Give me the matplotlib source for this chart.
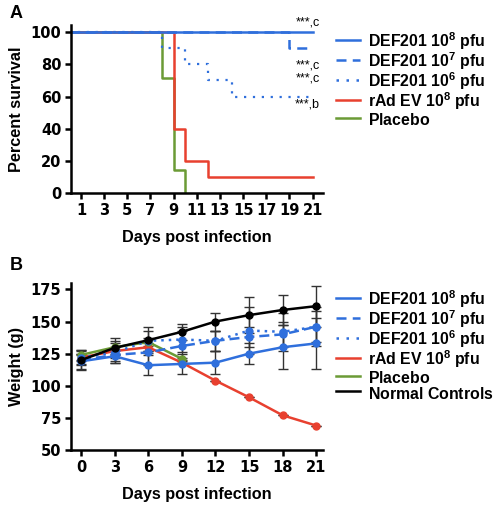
import matplotlib
matplotlib.use('Agg')
import matplotlib.pyplot as plt
import numpy as np

plt.rcParams['font.family'] = ['Liberation Sans', 'DejaVu Sans']
plt.rcParams['font.weight'] = 'bold'
plt.rcParams['mathtext.fontset'] = 'custom'
plt.rcParams['mathtext.rm'] = 'Liberation Sans:bold'
plt.rcParams['mathtext.default'] = 'rm'

BLUE = '#2f6fdc'
RED = '#e8402f'
GREEN = '#6b9b35'
BLACK = '#000000'

# empty superscript keeps every legend row the same height
labels = ['DEF201 10$^{8}$ pfu', 'DEF201 10$^{7}$ pfu', 'DEF201 10$^{6}$ pfu',
          'rAd EV 10$^{8}$ pfu', 'Placebo$^{\\ }$', 'Normal Controls$^{\\ }$']

# ---- panel A: survival (step data) ----
surv_days = {
    'def8': [0, 21],
    'def7': [0, 19, 21],
    'def6': [0, 8, 10, 12, 14, 21],
    'rad': [0, 9, 10, 12, 21],
    'placebo': [0, 8, 9, 10],
}
surv_pct = {
    'def8': [100, 100],
    'def7': [100, 90, 90],
    'def6': [100, 90, 80, 70, 60, 60],
    'rad': [100, 40, 20, 10, 10],
    'placebo': [100, 71.4, 14.3, 0],
}
sig_labels = ['***,c', '***,c', '***,c', '***,b']
sig_y = [106, 79, 71, 55]

# ---- panel B: weight ----
w_days = [0, 3, 6, 9, 12, 15, 18, 21]
w_def8 = [119, 123, 116, 117, 118, 125, 130, 133]
w_def8_err = [6, 5, 8, 8, 9, 8, 17, 20]
w_def7 = [120, 124, 126, 131, 135, 138, 140, 146]
w_def7_err = [4, 6, 10, 12, 8, 8, 10, 15]
w_def6 = [122, 126, 135, 136, 135, 143, 142, 146]
w_def6_err = [5, 7, 8, 10, 8, 18, 15, 12]
w_rad = [122, 127, 130, 118, 104, 91, 77, 69]
w_rad_err = [3, 3, 3, 0, 0, 0, 0, 0]
w_plac_days = [0, 3, 6, 9]
w_plac = [124, 130, 134, 121]
w_plac_err = [4, 5, 3, 1]
w_ctrl = [120, 129.5, 135.5, 142, 150, 155, 159, 162]
w_ctrl_err = [8, 8, 10, 6, 7, 14, 12, 16]

styles = {
    'def8': dict(color=BLUE, linestyle='-'),
    'def7': dict(color=BLUE, linestyle=(0, (4, 2.5))),
    'def6': dict(color=BLUE, linestyle=(0, (1, 3))),
    'rad': dict(color=RED, linestyle='-'),
    'placebo': dict(color=GREEN, linestyle='-'),
}

fig = plt.figure(figsize=(4.98, 5.07), dpi=100)
axA = fig.add_axes([71/498, 1-193/507, 252/498, 168/507])
axB = fig.add_axes([71/498, 1-450/507, 252/498, 167/507])

def style_axes(ax):
    for s in ['top', 'right']:
        ax.spines[s].set_visible(False)
    for s in ['left', 'bottom']:
        ax.spines[s].set_linewidth(1.8)
    ax.tick_params(width=1.8, length=4, pad=3)
    for t in ax.get_xticklabels() + ax.get_yticklabels():
        t.set_fontweight('bold')
        t.set_fontfamily('DejaVu Sans')
        t.set_fontsize(10.5)

leg_kw = dict(loc='upper left', frameon=False, prop=dict(size=11.4, weight='bold'),
              handlelength=1.5, handleheight=1.33, handletextpad=0.55,
              labelspacing=-0.1, borderpad=0, borderaxespad=0)

# panel A
order = ['placebo', 'rad', 'def6', 'def7', 'def8']
for key in order:
    lw = 1.6 if key == 'def6' else 1.8
    axA.step(surv_days[key], surv_pct[key], where='post', lw=lw, **styles[key])
axA.set_xlim(0.14, 21.9)
axA.set_ylim(0, 104.5)
axA.set_xticks(range(1, 22, 2))
axA.set_yticks(range(0, 101, 20))
style_axes(axA)
axA.set_ylabel('Percent survival', fontsize=11.7, fontweight='bold', labelpad=5)
axA.set_xlabel('Days post infection', fontsize=11.7, fontweight='bold', labelpad=9)
for lab, yy in zip(sig_labels, sig_y):
    axA.text(21.6, yy, lab, fontsize=9, ha='right', va='center', fontweight='normal',
             clip_on=False)

handlesA = []
for key in ['def8', 'def7', 'def6', 'rad', 'placebo']:
    h, = axA.plot([], [], lw=1.8, **styles[key])
    handlesA.append(h)
fig.legend(handlesA, labels[:5], bbox_to_anchor=(336/498, 1-30/507), **leg_kw)

# panel B
ebkw = dict(capsize=3.5, elinewidth=1, capthick=1, ecolor='#333333', marker='o',
            markersize=5, lw=1.8)
axB.errorbar(w_days, w_rad, yerr=w_rad_err, color=RED, **ebkw)
axB.errorbar(w_plac_days, w_plac, yerr=w_plac_err, color=GREEN, **ebkw)
axB.errorbar(w_days, w_def6, yerr=w_def6_err, color=BLUE, linestyle=(0, (1, 2)), **ebkw)
axB.errorbar(w_days, w_def7, yerr=w_def7_err, color=BLUE, linestyle=(0, (4, 2)), **ebkw)
axB.errorbar(w_days, w_def8, yerr=w_def8_err, color=BLUE, **ebkw)
axB.errorbar(w_days, w_ctrl, yerr=w_ctrl_err, color=BLACK, **ebkw)
axB.set_xlim(-0.9, 21.6)
axB.set_ylim(50, 180)
axB.set_xticks(w_days)
axB.set_yticks(range(50, 176, 25))
style_axes(axB)
axB.set_ylabel('Weight (g)', fontsize=11.7, fontweight='bold', labelpad=5)
axB.set_xlabel('Days post infection', fontsize=11.7, fontweight='bold', labelpad=9)

handlesB = []
for key in ['def8', 'def7', 'def6', 'rad', 'placebo']:
    h, = axB.plot([], [], lw=1.8, **styles[key])
    handlesB.append(h)
h, = axB.plot([], [], lw=1.8, color=BLACK)
handlesB.append(h)
fig.legend(handlesB, labels, bbox_to_anchor=(336/498, 1-288/507), **leg_kw)

fig.text(10/498, 1-14/507, 'A', fontsize=13, fontweight='bold', va='center')
fig.text(10/498, 1-265/507, 'B', fontsize=13, fontweight='bold', va='center')

fig.savefig('out.png', dpi=100)
